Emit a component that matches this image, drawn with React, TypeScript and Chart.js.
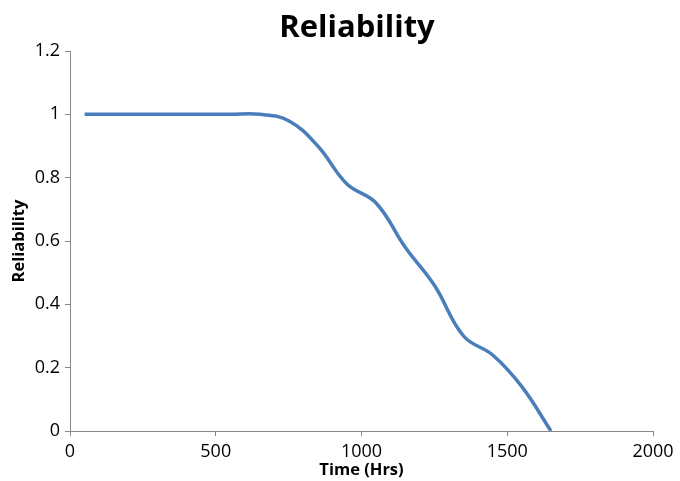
import React, { useEffect, useRef } from "react";
import { Chart, registerables } from "chart.js";

Chart.register(...registerables);

const timeHrs = [50, 150, 250, 350, 450, 550, 650, 750, 850, 950, 1050, 1150, 1250, 1350, 1450, 1550, 1650];
const reliability = [1, 1, 1, 1, 1, 1, 1, 0.98, 0.9, 0.78, 0.72, 0.58, 0.46, 0.3, 0.24, 0.14, 0];
const xTicks = [0, 500, 1000, 1500, 2000];
const yTicks = [0, 0.2, 0.4, 0.6, 0.8, 1, 1.2];

const FONT = "'Open Sans', sans-serif";
const AXIS = "#868686";

const titleCenter = {
  id: "titleCenter",
  afterLayout(chart: any) {
    const t = chart.titleBlock;
    if (t) {
      t.left = 61;
      t.right = 653;
    }
  },
};

export default function App() {
  const ref = useRef<HTMLCanvasElement | null>(null);
  useEffect(() => {
    document.body.style.margin = "0";
    const ctx = ref.current!;
    const chart = new Chart(ctx, {
      type: "scatter",
      data: {
        datasets: [
          {
            data: timeHrs.map((t, i) => ({ x: t, y: reliability[i] })),
            showLine: true,
            borderColor: "#4A7EBB",
            borderWidth: 3.5,
            pointRadius: 0,
            tension: 0.4,
            fill: false,
          },
        ],
      },
      plugins: [titleCenter],
      options: {
        responsive: false,
        animation: false,
        layout: { padding: { left: 0, right: 27, top: 0, bottom: 0 } },
        plugins: {
          legend: { display: false },
          tooltip: { enabled: false },
          title: {
            display: true,
            text: "Reliability",
            color: "#000",
            font: { family: FONT, size: 31, weight: "bold", lineHeight: 1.2 },
            padding: { top: 10, bottom: 3.8 },
          },
        },
        scales: {
          x: {
            type: "linear",
            min: 0,
            max: 2000,
            afterBuildTicks: (s: any) => {
              s.ticks = xTicks.map((v) => ({ value: v }));
            },
            afterFit: (s: any) => {
              s.height = 50;
            },
            border: { display: true, color: AXIS, width: 1 },
            grid: { display: true, drawOnChartArea: false, drawTicks: true, tickLength: 5, color: AXIS },
            ticks: {
              color: "#000",
              font: { family: FONT, size: 18, lineHeight: 1.2 },
              padding: 5,
              maxRotation: 0,
              callback: (v: any) => String(v),
            },
            title: {
              display: true,
              text: "Time (Hrs)",
              color: "#000",
              font: { family: FONT, size: 16.5, weight: "bold", lineHeight: 1.2 },
              padding: { top: 1, bottom: 1 },
            },
          },
          y: {
            type: "linear",
            min: 0,
            max: 1.2,
            afterBuildTicks: (s: any) => {
              s.ticks = yTicks.map((v) => ({ value: v }));
            },
            afterFit: (s: any) => {
              s.width = 70;
            },
            border: { display: true, color: AXIS, width: 1 },
            grid: { display: true, drawOnChartArea: false, drawTicks: true, tickLength: 5, color: AXIS },
            ticks: {
              color: "#000",
              font: { family: FONT, size: 18, lineHeight: 1.2 },
              padding: 5,
              callback: (v: any) => String(Math.round(Number(v) * 10) / 10),
            },
            title: {
              display: true,
              text: "Reliability",
              color: "#000",
              font: { family: FONT, size: 16.5, weight: "bold", lineHeight: 1.2 },
              padding: { top: 9, bottom: 9 },
            },
          },
        },
      },
    });
    return () => chart.destroy();
  }, []);
  return (
    <div style={{ width: 680, height: 481, position: "relative", background: "#fff" }}>
      <canvas ref={ref} width={680} height={481} />
    </div>
  );
}
